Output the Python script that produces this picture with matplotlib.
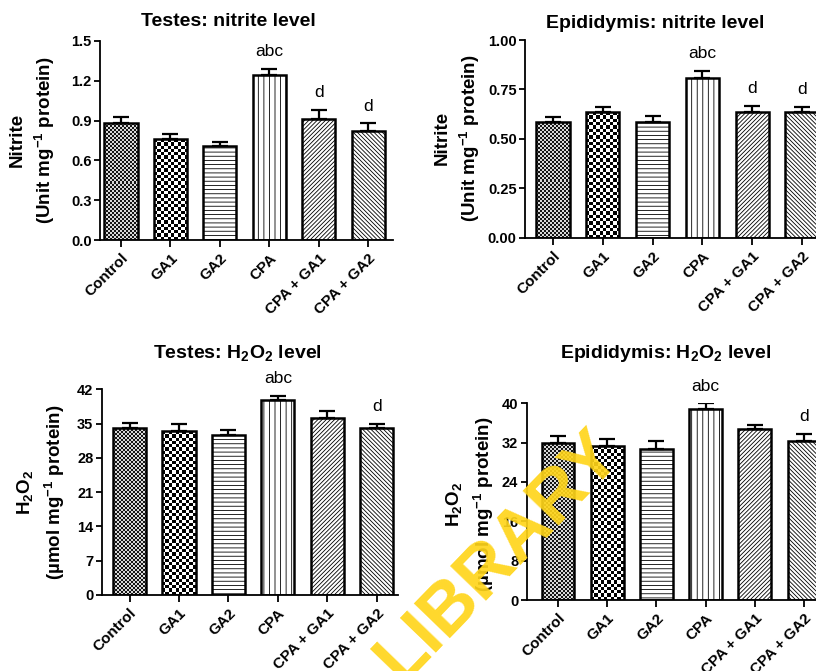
import matplotlib
matplotlib.use('Agg')
import matplotlib.pyplot as plt
from matplotlib.colors import ListedColormap
import numpy as np

plt.rcParams['font.family'] = ['Liberation Sans', 'DejaVu Sans']
plt.rcParams['mathtext.fontset'] = 'custom'
plt.rcParams['mathtext.rm'] = 'Liberation Sans'
plt.rcParams['mathtext.bf'] = 'Liberation Sans:bold'
plt.rcParams['mathtext.it'] = 'Liberation Sans:italic'
plt.rcParams['hatch.linewidth'] = 0.6

# ---------------- data ----------------
groups = ['Control', 'GA1', 'GA2', 'CPA', 'CPA + GA1', 'CPA + GA2']

testes_nitrite = [0.88, 0.76, 0.71, 1.24, 0.91, 0.82]
testes_nitrite_err = [0.05, 0.04, 0.03, 0.05, 0.07, 0.06]
testes_nitrite_sig = ['', '', '', 'abc', 'd', 'd']

epi_nitrite = [0.587, 0.634, 0.587, 0.810, 0.634, 0.634]
epi_nitrite_err = [0.025, 0.026, 0.030, 0.033, 0.032, 0.029]
epi_nitrite_sig = ['', '', '', 'abc', 'd', 'd']

testes_h2o2 = [34.2, 33.4, 32.6, 39.8, 36.2, 34.2]
testes_h2o2_err = [0.9, 1.5, 1.0, 0.8, 1.4, 0.8]
testes_h2o2_sig = ['', '', '', 'abc', '', 'd']

epi_h2o2 = [32.0, 31.3, 30.8, 38.8, 34.7, 32.4]
epi_h2o2_err = [1.4, 1.4, 1.5, 1.2, 0.8, 1.4]
epi_h2o2_sig = ['', '', '', 'abc', '', 'd']

yticks_testes_nitrite = [0.0, 0.3, 0.6, 0.9, 1.2, 1.5]
yticklabels_testes_nitrite = ['0.0', '0.3', '0.6', '0.9', '1.2', '1.5']
yticks_epi_nitrite = [0.0, 0.25, 0.50, 0.75, 1.00]
yticklabels_epi_nitrite = ['0.00', '0.25', '0.50', '0.75', '1.00']
yticks_testes_h2o2 = [0, 7, 14, 21, 28, 35, 42]
yticklabels_testes_h2o2 = ['0', '7', '14', '21', '28', '35', '42']
yticks_epi_h2o2 = [0, 8, 16, 24, 32, 40]
yticklabels_epi_h2o2 = ['0', '8', '16', '24', '32', '40']

titles = ['Testes: nitrite level', 'Epididymis: nitrite level',
          r'Testes: H$_\mathbf{2}$O$_\mathbf{2}$ level',
          r'Epididymis: H$_\mathbf{2}$O$_\mathbf{2}$ level']
ylabel_nitrite = 'Nitrite\n' + r'(Unit mg$^{\mathbf{-1}}$ protein)'
ylabel_h2o2 = r'H$_\mathbf{2}$O$_\mathbf{2}$' + '\n' + r'(µmol mg$^{\mathbf{-1}}$ protein)'

# fill style of each group: checkerboards (cell px, colours) or hatch
fills = [('checker', 2.0, ['#151515', '#d8d8d8']),
         ('checker', 3.3, ['#000000', '#ffffff']),
         ('hatch', '----'),
         ('hatch', '|||'),
         ('hatch', '////////'),
         ('hatch', '\\\\\\\\\\\\\\\\')]

W, H = 816, 671
fig = plt.figure(figsize=(W / 100, H / 100), dpi=100)


def fx(px):
    return px / W


def fy(py):
    return 1 - py / H


def checker(ax, bar, cell, colors):
    x0 = bar.get_x()
    w = bar.get_width()
    h = bar.get_height()
    p0 = ax.transData.transform((x0, 0))
    p1 = ax.transData.transform((x0 + w, h))
    nx = max(1, int(round((p1[0] - p0[0]) / cell)))
    ny = max(1, int(round((p1[1] - p0[1]) / cell)))
    arr = np.add.outer(np.arange(ny), np.arange(nx)) % 2
    im = ax.imshow(arr, cmap=ListedColormap(colors), vmin=0, vmax=1,
                   extent=(x0, x0 + w, 0, h), aspect='auto',
                   interpolation='nearest', zorder=1)
    im.set_clip_path(bar)


def panel(rect_px, xlim, vals, errs, sig, yticks, yticklabels,
          title, title_px, ylabel, ylabel_px):
    left, top, right, bottom = rect_px
    ax = fig.add_axes([fx(left), fy(bottom), fx(right) - fx(left), fy(top) - fy(bottom)])
    x = np.arange(len(groups))
    ax.set_xlim(*xlim)
    ax.set_ylim(yticks[0], yticks[-1])
    bars = ax.bar(x, vals, width=0.67, facecolor='white', edgecolor='black',
                  linewidth=1.8, zorder=2)
    for b, f in zip(bars, fills):
        if f[0] == 'checker':
            b.set_facecolor('none')
            checker(ax, b, f[1], f[2])
        else:
            b.set_hatch(f[1])
    ax.errorbar(x, vals, yerr=[np.zeros(len(vals)), errs], fmt='none',
                ecolor='black', elinewidth=1.6, capsize=5.5, capthick=1.6, zorder=3)
    for xi, v, e, s in zip(x, vals, errs, sig):
        if s:
            ax.annotate(s, (xi, v + e), xytext=(0, 7), textcoords='offset points',
                        ha='center', va='bottom', fontsize=12.5)
    ax.set_xlim(*xlim)
    ax.set_ylim(yticks[0], yticks[-1])
    for s in ['top', 'right']:
        ax.spines[s].set_visible(False)
    for s in ['left', 'bottom']:
        ax.spines[s].set_linewidth(1.3)
    ax.set_yticks(yticks)
    ax.set_yticklabels(yticklabels, fontsize=10.5, fontweight='bold')
    ax.set_xticks(x)
    ax.set_xticklabels(groups, fontsize=11, fontweight='bold', rotation=45,
                       ha='right', rotation_mode='anchor')
    ax.tick_params(axis='y', width=1.3, length=4, pad=2)
    ax.tick_params(axis='x', width=1.3, length=5, pad=3)
    fig.text(fx(title_px[0]), fy(title_px[1]), title, ha='center', va='center',
             fontsize=14, fontweight='bold')
    fig.text(fx(ylabel_px[0]), fy(ylabel_px[1]), ylabel, ha='center', va='center',
             rotation=90, fontsize=13.5, fontweight='bold', multialignment='center',
             linespacing=1.4)
    return ax


panel((100, 41, 393, 240), (-0.425, 5.5), testes_nitrite, testes_nitrite_err,
      testes_nitrite_sig, yticks_testes_nitrite, yticklabels_testes_nitrite,
      titles[0], (228, 22), ylabel_nitrite, (33, 140))
panel((525, 40, 827, 237.7), (-0.56, 5.5), epi_nitrite, epi_nitrite_err,
      epi_nitrite_sig, yticks_epi_nitrite, yticklabels_epi_nitrite,
      titles[1], (655, 23), ylabel_nitrite, (458, 138))
panel((101.7, 389.3, 398, 595), (-0.563, 5.43), testes_h2o2, testes_h2o2_err,
      testes_h2o2_sig, yticks_testes_h2o2, yticklabels_testes_h2o2,
      titles[2], (237, 353), ylabel_h2o2, (41, 492))
panel((526.7, 403.3, 828.6, 600), (-0.636, 5.5), epi_h2o2, epi_h2o2_err,
      epi_h2o2_sig, yticks_epi_h2o2, yticklabels_epi_h2o2,
      titles[3], (666, 353), ylabel_h2o2, (470, 504))

# watermark
fig.text(fx(498), fy(556), 'LIBRARY', rotation=46,
         fontsize=52, fontweight='bold', color='#FFD51A', ha='center', va='center',
         rotation_mode='anchor', alpha=0.92, zorder=20)

fig.savefig('out.png', dpi=100)
